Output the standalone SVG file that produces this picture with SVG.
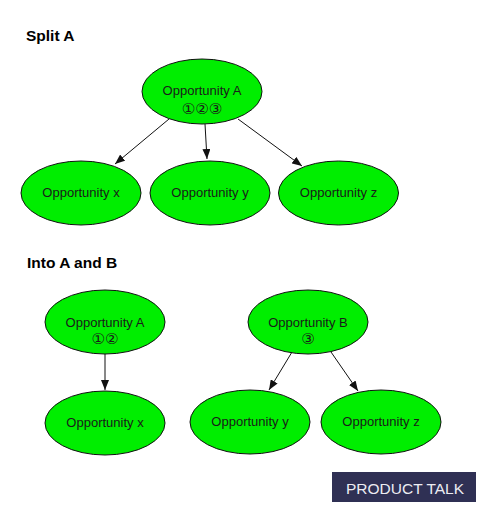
<svg xmlns="http://www.w3.org/2000/svg" width="496" height="522" viewBox="0 0 496 522">
<style>
.n ellipse{fill:#00ee00;stroke:#111;stroke-width:1}
.n text{font-family:"Liberation Sans",Arial,sans-serif;font-size:13px;fill:#1a1a1a;text-anchor:middle}
.n text.c{font-family:"DejaVu Sans",sans-serif;font-size:15px}
.h{font-family:"Liberation Sans",Arial,sans-serif;font-size:15.5px;font-weight:bold;fill:#000}
#edges line{stroke:#111;stroke-width:1;marker-end:url(#ah)}
</style>
<defs>
<marker id="ah" viewBox="0 0 10 8" refX="10" refY="4" markerWidth="10" markerHeight="8" markerUnits="userSpaceOnUse" orient="auto">
<path d="M0,0 L10,4 L0,8 Z" fill="#111"/>
</marker>
</defs>
<rect width="496" height="522" fill="#fff"/>
<text class="h" x="26" y="41">Split A</text>
<text class="h" x="27" y="268">Into A and B</text>

<g id="edges">
<line x1="169" y1="119" x2="115" y2="164"/>
<line x1="205" y1="124" x2="207" y2="159"/>
<line x1="238" y1="119" x2="302" y2="166"/>
<line x1="105" y1="354" x2="105" y2="390"/>
<line x1="292" y1="352" x2="269" y2="390"/>
<line x1="331" y1="352" x2="358" y2="391"/>
</g>

<g id="nodeA" class="n">
<ellipse cx="202" cy="91.5" rx="60" ry="32.5"/>
<text x="202" y="95">Opportunity A</text>
<text class="c" x="202" y="114">①②③</text>
</g>
<g id="nodeX" class="n">
<ellipse cx="81" cy="193" rx="60" ry="32"/>
<text x="81" y="197">Opportunity x</text>
</g>
<g id="nodeY" class="n">
<ellipse cx="210" cy="193" rx="60" ry="32"/>
<text x="210" y="197">Opportunity y</text>
</g>
<g id="nodeZ" class="n">
<ellipse cx="338.5" cy="193" rx="60" ry="32"/>
<text x="338.5" y="197">Opportunity z</text>
</g>

<g id="nodeA2" class="n">
<ellipse cx="105" cy="322" rx="60" ry="32"/>
<text x="105" y="327">Opportunity A</text>
<text class="c" x="105" y="344">①②</text>
</g>
<g id="nodeB" class="n">
<ellipse cx="308" cy="322" rx="60" ry="32"/>
<text x="308" y="327">Opportunity B</text>
<text class="c" x="308" y="344">③</text>
</g>
<g id="nodeX2" class="n">
<ellipse cx="105" cy="423" rx="60" ry="32"/>
<text x="105" y="427">Opportunity x</text>
</g>
<g id="nodeY2" class="n">
<ellipse cx="250" cy="422" rx="60" ry="32"/>
<text x="250" y="426">Opportunity y</text>
</g>
<g id="nodeZ2" class="n">
<ellipse cx="381" cy="422" rx="60" ry="32"/>
<text x="381" y="426">Opportunity z</text>
</g>

<g id="badge">
<rect x="332" y="472" width="144" height="30" fill="#2f3054"/>
<text x="405" y="494" font-family="'Liberation Sans',Arial,sans-serif" font-size="15.5px" fill="#ececf2" text-anchor="middle">PRODUCT TALK</text>
</g>
</svg>
